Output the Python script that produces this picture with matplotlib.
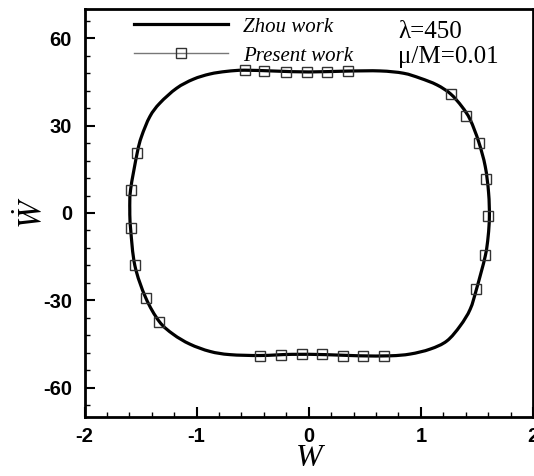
import matplotlib
matplotlib.use("Agg")
import matplotlib.pyplot as plt
import numpy as np
from matplotlib.lines import Line2D
from matplotlib.path import Path
from matplotlib.patches import PathPatch
from matplotlib.ticker import MultipleLocator

plt.rcParams["mathtext.fontset"] = "stix"
plt.rcParams["axes.unicode_minus"] = False

# Reference limit cycle (Zhou work), traversed clockwise
zhou_w = [-1.596, -1.589, -1.530, -1.491, -1.417, -1.328, -1.179, -1.030, -0.881,
          -0.732, -0.573, -0.300, 0.000, 0.346, 0.636, 0.845, 0.994, 1.143, 1.264,
          1.366, 1.440, 1.515, 1.574, 1.604, 1.611, 1.600, 1.574, 1.497, 1.440,
          1.351, 1.232, 1.083, 0.904, 0.726, 0.450, 0.150, -0.150, -0.432, -0.703,
          -0.881, -1.060, -1.209, -1.334, -1.455, -1.551, -1.589]
zhou_wdot = [1.0, 8.0, 20.6, 26.3, 33.1, 37.7, 42.8, 45.9, 47.7,
             48.6, 49.0, 48.7, 48.4, 48.7, 48.75, 47.96, 46.25, 43.96, 40.9,
             36.5, 32.0, 24.5, 16.0, 6.9, -1.2, -8.0, -14.8, -26.0, -33.0,
             -38.7, -43.9, -46.7, -48.4, -49.0, -49.0, -48.6, -48.5, -48.9, -48.6,
             -47.5, -45.0, -41.6, -37.2, -29.0, -18.0, -5.3]

# Present computation
present_w = [-0.573, -0.396, -0.203, -0.018, 0.163, 0.346,
             1.266, 1.404, 1.516, 1.583, 1.601, 1.574, 1.494,
             0.672, 0.488, 0.304, 0.116, -0.063, -0.247, -0.432,
             -1.334, -1.455, -1.551, -1.589, -1.589, -1.530]
present_wdot = [49.0, 48.75, 48.4, 48.3, 48.4, 48.75,
                40.8, 33.4, 24.0, 11.7, -1.2, -14.4, -26.2,
                -49.2, -49.0, -49.0, -48.5, -48.4, -48.75, -49.0,
                -37.4, -29.1, -18.0, -5.3, 8.0, 20.6]

x_ticks = [-2, -1, 0, 1, 2]
y_ticks = [-60, -30, 0, 30, 60]


def closed_smooth_path(xs, ys):
    """Closed cubic Bezier path through the given vertices (Catmull-Rom tangents)."""
    p = np.column_stack([xs, ys])
    n = len(p)
    verts = [p[0]]
    codes = [Path.MOVETO]
    for i in range(n):
        p0, p1, p2, p3 = p[i - 1], p[i], p[(i + 1) % n], p[(i + 2) % n]
        verts += [p1 + (p2 - p0) / 6.0, p2 - (p3 - p1) / 6.0, p2]
        codes += [Path.CURVE4] * 3
    return Path(verts, codes)


W, H = 534, 476
fig = plt.figure(figsize=(W / 100, H / 100), dpi=100)
ax = fig.add_axes([84.5 / W, 1 - 417 / H, (533 - 84.5) / W, (417 - 9) / H])

ax.add_patch(PathPatch(closed_smooth_path(zhou_w, zhou_wdot), fill=False,
                       edgecolor="black", lw=2.3, zorder=2))
ax.plot(present_w, present_wdot, ls="none", marker="s", ms=7.6, mfc="none",
        mec="#333333", mew=1.0, zorder=3)

ax.set_xlim(-2, 2)
ax.set_ylim(-70, 70)
ax.set_xticks(x_ticks)
ax.set_yticks(y_ticks)
ax.xaxis.set_minor_locator(MultipleLocator(0.2))
ax.yaxis.set_minor_locator(MultipleLocator(6))
ax.tick_params(which="both", direction="in", top=False, right=False)
ax.tick_params(which="major", length=7.2, width=1.5, pad=7)
ax.tick_params(which="minor", length=3.8, width=1.0)
ax.tick_params(axis="y", which="major", pad=9)
for lab in ax.get_xticklabels() + ax.get_yticklabels():
    lab.set_fontfamily("Liberation Sans")
    lab.set_fontweight("bold")
    lab.set_fontsize(14.5)
for sp in ax.spines.values():
    sp.set_linewidth(2.0)

ax.set_xlabel("W", fontsize=23, family="Liberation Serif", style="italic",
              labelpad=-1)
ax.set_ylabel(r"$\dot{W}$", fontsize=24, labelpad=-4)

handles = [
    Line2D([], [], color="black", lw=2.3),
    Line2D([], [], color="#777777", lw=1.0, marker="s", ms=7.6, mfc="none",
           mec="#333333", mew=1.0),
]
ax.legend(handles, ["Zhou work", "Present work"], loc="upper left",
          bbox_to_anchor=((132 - 84.5) / (533 - 84.5), 1 - 6 / 408),
          frameon=False, handlelength=4.5, handletextpad=0.75,
          labelspacing=0.45, borderpad=0.1, borderaxespad=0.0,
          numpoints=1,
          prop={"family": "Liberation Serif", "style": "italic", "size": 15})

ax.text(0.699, 0.944, "λ=450", transform=ax.transAxes, fontsize=18,
        family="Liberation Serif", va="center", ha="left")
ax.text(0.699, 0.882, "μ/M=0.01", transform=ax.transAxes, fontsize=18,
        family="Liberation Serif", va="center", ha="left")

fig.savefig("out.png", dpi=100)
